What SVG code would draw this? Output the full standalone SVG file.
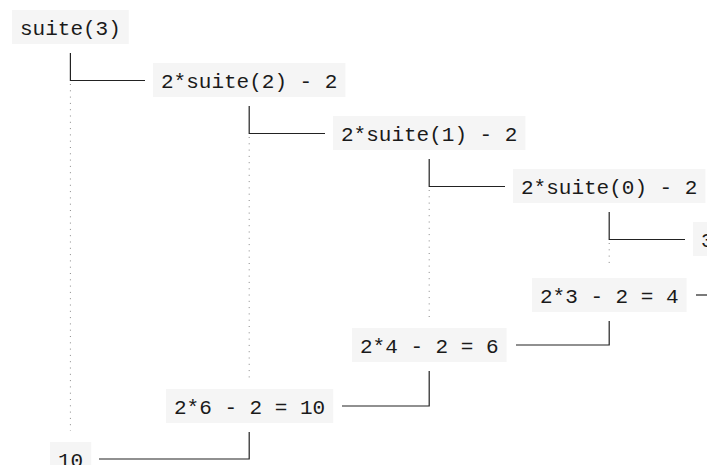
<svg xmlns="http://www.w3.org/2000/svg" width="707" height="465" viewBox="0 0 707 465">
<style>
.box{fill:#f5f5f5}
.t{font-family:"Liberation Mono","DejaVu Sans Mono",monospace;font-size:21px;fill:#1a1a1a;white-space:pre}
.ln{stroke:#222;stroke-width:1.2;fill:none}
.dot{stroke:#888;stroke-width:1;stroke-dasharray:1 5.3;fill:none}
</style>
<rect width="707" height="465" fill="#fff"/>
<g id="connectors">
<path class="ln" d="M70.4 53V80.5H145"/>
<path class="ln" d="M249.2 106V133.5H325"/>
<path class="ln" d="M429.2 159V186.5H505"/>
<path class="ln" d="M609.2 212V239.5H685"/>
<path class="ln" d="M696 295H707"/>
<path class="ln" d="M516 345H609.2V321"/>
<path class="ln" d="M342 406H429.2V371"/>
<path class="ln" d="M99 459H249.2V432"/>
<path class="dot" d="M70.4 84V431"/>
<path class="dot" d="M249.2 137V380"/>
<path class="dot" d="M429.2 190V318"/>
<path class="dot" d="M609.2 243V267"/>
</g>
<g id="call0"><rect class="box" x="12" y="10" width="116.8" height="34"/><text class="t" x="20" y="35">suite(3)</text></g>
<g id="call1"><rect class="box" x="153" y="63" width="192.4" height="34"/><text class="t" x="161" y="88">2*suite(2) - 2</text></g>
<g id="call2"><rect class="box" x="333" y="116" width="192.4" height="34"/><text class="t" x="341" y="141">2*suite(1) - 2</text></g>
<g id="call3"><rect class="box" x="513" y="169" width="192.4" height="34"/><text class="t" x="521" y="194">2*suite(0) - 2</text></g>
<g id="call4"><rect class="box" x="693" y="222" width="28.6" height="34"/><text class="t" x="701" y="247">3</text></g>
<g id="ret3"><rect class="box" x="532" y="278" width="154.6" height="34"/><text class="t" x="540" y="303">2*3 - 2 = 4</text></g>
<g id="ret2"><rect class="box" x="352" y="328" width="154.6" height="34"/><text class="t" x="360" y="353">2*4 - 2 = 6</text></g>
<g id="ret1"><rect class="box" x="166" y="389" width="167.2" height="34"/><text class="t" x="174" y="414">2*6 - 2 = 10</text></g>
<g id="ret0"><rect class="box" x="50" y="442" width="41.2" height="34"/><text class="t" x="58" y="467">10</text></g>
</svg>
